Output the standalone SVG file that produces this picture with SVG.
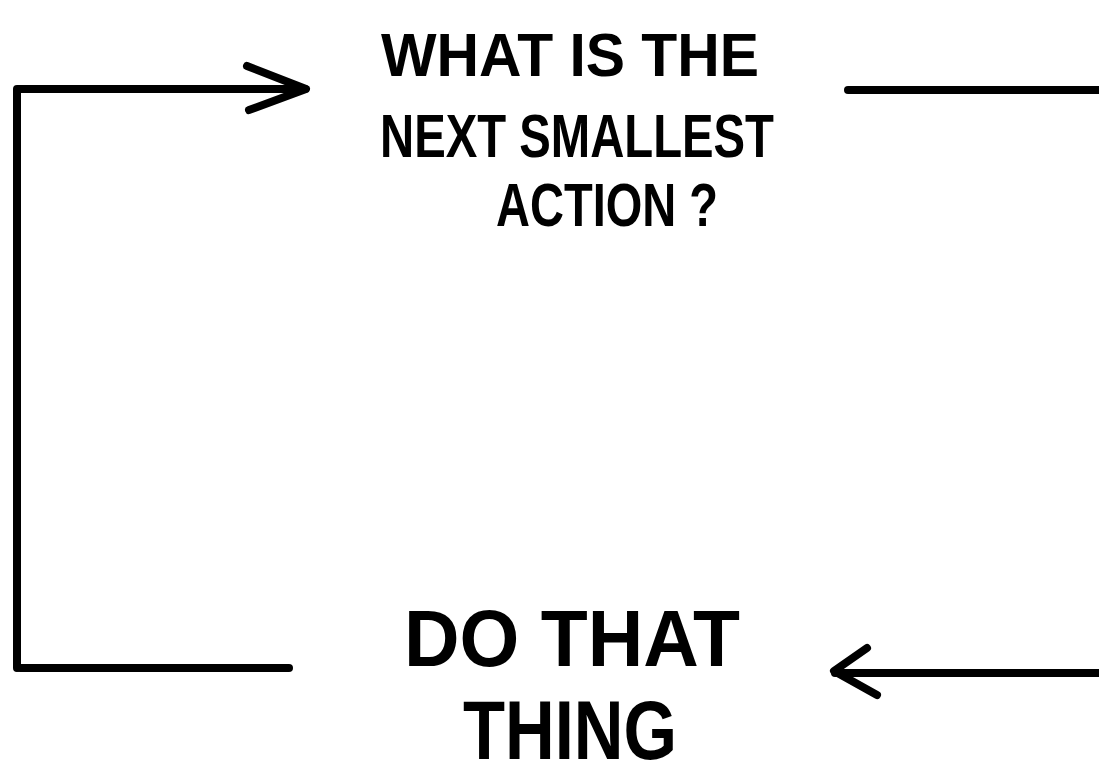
<svg xmlns="http://www.w3.org/2000/svg" width="1099" height="779" viewBox="0 0 1099 779">
<style>
.ln{fill:none;stroke:#000;stroke-width:8;stroke-linecap:round;stroke-linejoin:round}
.t{font-family:"Liberation Sans","DejaVu Sans",sans-serif;fill:#000;text-anchor:middle;font-weight:bold}
</style>
<rect width="1099" height="779" fill="#fff"/>
<g id="connectors">
<path class="ln" d="M17,668 L17,89 L305,89"/>
<path class="ln" d="M247,66 L306,89 L249,110"/>
<path class="ln" d="M848,90 L1099,90"/>
<path class="ln" d="M20,668 L289,668"/>
<path class="ln" d="M1099,673 L835,673"/>
<path class="ln" d="M867,648 L834,671 L877,695"/>
</g>
<g id="question">
<text class="t" x="570" y="76" font-size="62" textLength="378" lengthAdjust="spacingAndGlyphs">WHAT IS THE</text>
<text class="t" x="577" y="157" font-size="62" textLength="394" lengthAdjust="spacingAndGlyphs">NEXT SMALLEST</text>
<text class="t" x="607" y="226" font-size="62" textLength="222" lengthAdjust="spacingAndGlyphs">ACTION ?</text>
</g>
<g id="action">
<text class="t" x="572" y="666" font-size="80" textLength="336" lengthAdjust="spacingAndGlyphs">DO THAT</text>
<text class="t" x="570" y="759" font-size="84" textLength="214" lengthAdjust="spacingAndGlyphs">THING</text>
</g>
</svg>
